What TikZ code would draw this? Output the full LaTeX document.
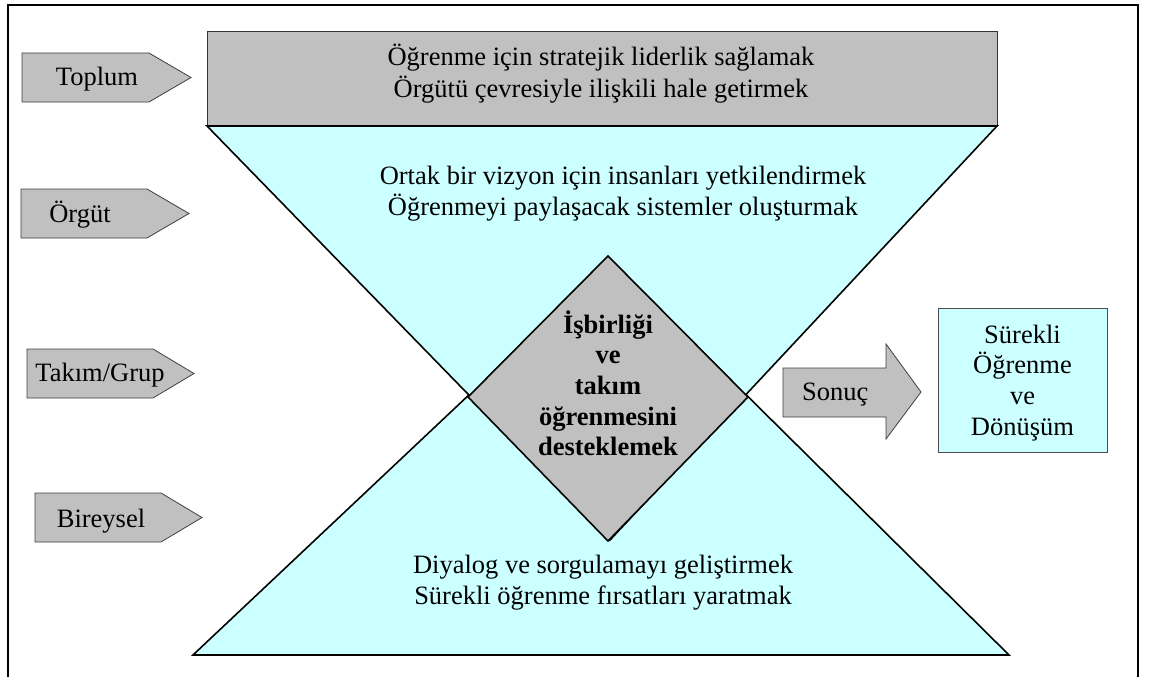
\documentclass[tikz,border=0pt]{standalone}
\usepackage{fontspec}
\setmainfont{Liberation Serif}
\begin{document}
\begin{tikzpicture}[x=1pt,y=-1pt,
  ln/.style={anchor=base,inner sep=0pt,font=\fontsize{26.5}{31}\selectfont},
  lnbold/.style={ln,font=\fontsize{26.5}{31}\selectfont\bfseries},
  tagshape/.style={fill=grayfill,draw=black!75,line width=0.8pt,line join=miter},
  funnel/.style={fill=cyanfill,draw=black,line width=1.6pt,line join=miter},
  outcome/.style={fill=cyanfill,draw=black!70,line width=0.8pt}]
\definecolor{grayfill}{RGB}{192,192,192}
\definecolor{cyanfill}{RGB}{204,255,255}
\useasboundingbox (0,0) rectangle (1149,677);

% outer frame (open at the bottom)
\draw[line width=2pt] (8,690) -- (8,5) -- (1137.5,5) -- (1137.5,690);

% top bar
\draw[fill=grayfill,draw=black!80,line width=1pt] (207,32) rectangle (997,126);
\node[ln] (lead1) at (601,66) {Öğrenme için stratejik liderlik sağlamak};
\node[ln] (lead2) at (601,97) {Örgütü çevresiyle ilişkili hale getirmek};

% hourglass: two cyan triangles
\draw[funnel] (193,655) -- (1009,655) -- (611,261) -- cycle;
\draw[funnel] (207,126) -- (997,126) -- (610,540) -- cycle;
\node[ln] (vision1) at (623,184) {Ortak bir vizyon için insanları yetkilendirmek};
\node[ln] (vision2) at (623,215) {Öğrenmeyi paylaşacak sistemler oluşturmak};
\node[ln] (dialog1) at (603,573) {Diyalog ve sorgulamayı geliştirmek};
\node[ln] (dialog2) at (603,604) {Sürekli öğrenme fırsatları yaratmak};

% central diamond
\draw[fill=grayfill,draw=black,line width=1.6pt,line join=miter]
  (608,256) -- (748,397) -- (608,541) -- (468,397) -- cycle;
\foreach \txt [count=\i] in {İşbirliği,ve,takım,öğrenmesini,desteklemek}
  \node[lnbold] (team\i) at (608,333+30.7*\i-30.7) {\txt};

% level tags on the left
\foreach \l/\t/\n/\p/\tx/\b/\name/\txt in {
    22/53/149/191/97/85/toplum/Toplum,
    21/189/147/189/80/222/orgut/Örgüt,
    27/349/153/194/100/381/takim/Takım\slash Grup,
    35/493/161/202/101/527/bireysel/Bireysel}{
  \draw[tagshape] (\l,\t) -- (\n,\t) -- (\p,\t+24.5) -- (\n,\t+49) -- (\l,\t+49) -- cycle;
  \node[ln] (\name) at (\tx,\b) {\txt};
}

% result arrow and outcome box
\draw[tagshape] (783,368) -- (886,368) -- (886,344) -- (921,392) -- (886,439)
  -- (886,417) -- (783,417) -- cycle;
\node[ln,anchor=base west] (sonuc) at (802,400) {Sonuç};
\node[outcome,minimum width=169pt,minimum height=144pt,inner sep=0pt] (result) at (1022.5,380) {};
\foreach \txt [count=\i] in {Sürekli,Öğrenme,ve,Dönüşüm}
  \node[ln] (result\i) at (1022.5,343+30.8*\i-30.8) {\txt};
\end{tikzpicture}
\end{document}
